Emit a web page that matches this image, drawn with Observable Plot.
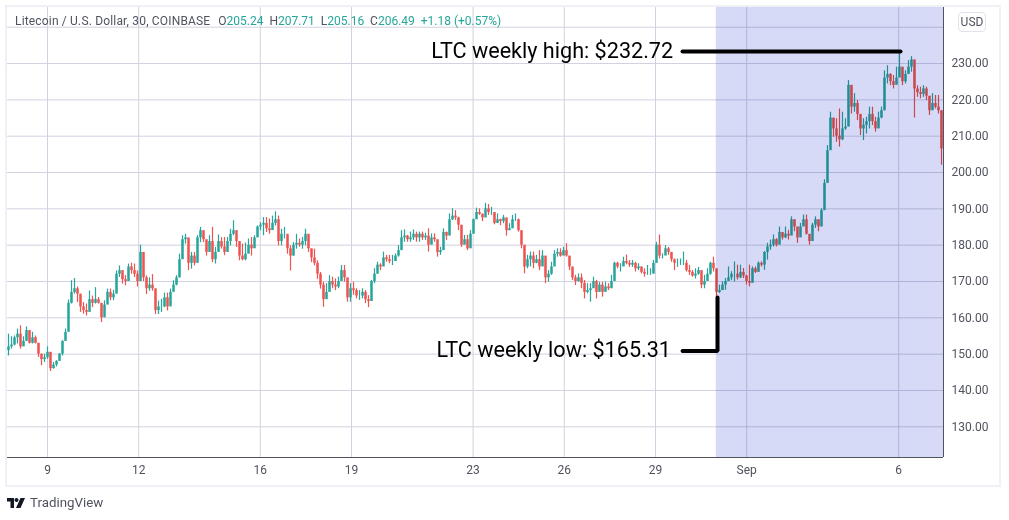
<!DOCTYPE html>
<html>
<head>
<meta charset="utf-8">
<script src="https://cdn.jsdelivr.net/npm/d3@7"></script>
<script src="https://cdn.jsdelivr.net/npm/@observablehq/plot@0.6"></script>
<style>
html,body{margin:0;padding:0;background:#fff;}
#wrap{position:relative;width:1009px;height:520px;overflow:hidden;font-family:Roboto,sans-serif;}
#frame{position:absolute;left:5px;top:5px;width:992px;height:478px;border:2px solid #f0f1f7;box-sizing:content-box;pointer-events:none;}
#legend{position:absolute;left:15px;top:13px;font-size:12px;line-height:16px;color:#50535e;white-space:pre;}
#legend b{font-weight:400;color:#26a69a;}
#legend .sym{letter-spacing:.17px;margin-right:2px;}
#usd{position:absolute;left:958px;top:12px;width:26px;height:18px;line-height:18px;text-align:center;border:1px solid #e0e3eb;border-radius:4px;font-size:12px;color:#50535e;}
#brand{position:absolute;left:7px;top:495px;font-size:13.3px;line-height:16px;color:#50535e;display:flex;align-items:center;gap:5px;}
</style>
</head>
<body>
<div id="wrap">
<div id="chart"></div>
<div id="frame"></div>
<div id="legend"><span class="sym">Litecoin / U.S. Dollar, 30, COINBASE</span>  O<b>205.24</b>  H<b>207.71</b>  L<b>205.16</b>  C<b>206.49</b>  <b>+1.18 (+0.57%)</b></div>
<div id="usd">USD</div>
<div id="brand"><svg width="18" height="10" viewBox="0 0 36 20"><path d="M0 0H14V20H7V7H0Z" fill="#131722"/><circle cx="19" cy="4" r="4" fill="#131722"/><path d="M27 0H36L27 20H18Z" fill="#131722"/></svg><span>TradingView</span></div>
</div>
<script>
const firstDay = 7.717;
const stepDays = 3 / 30.4;
const firstOpen = 151;

const highs = [155.5,154.8,155,156.9,157.8,154.8,157.5,156.2,156,155,152.8,150,150,152,150.5,147.7,148.2,150.2,153.7,156.9,164.9,170.2,170.8,168.5,166.5,164.2,163.8,167.4,166,168.3,165.6,162.8,164.7,167.9,167.9,167.6,172.9,174.3,172,171.6,174.8,175,174.8,172.9,180,178,171.5,171,171.9,167.3,164.6,
165.1,166.8,166.8,167.9,170.2,171.6,177.5,182.6,183,181,178,178,182.6,184.9,183,180.3,182.6,184.9,179.4,182.8,182.1,182.1,182.1,184.4,186.7,182.6,180.7,180.3,180.6,181.7,182.1,182.6,185.3,186.2,187.6,187.6,187.2,188,189.2,188,184.4,184.9,182.1,179.8,180.7,183,181.7,182.1,184.4,181.7,178.9,178.9,175.7,172.5,
169.8,169.4,171.6,171.2,170.7,171.2,174.4,174.4,169.4,169.4,169.8,168,167.5,168,167.5,166.1,170.3,173.5,175.3,174.9,178.1,177.2,177.2,177.2,177.6,179.9,184,184.2,182.7,183.6,184.2,183.6,183.6,183.6,183.3,184.5,183.1,183.1,180.4,179.4,184.5,183.6,188.6,190,189.5,187.7,184,182.7,182.7,184,
187.2,190.2,190,188.6,191.5,191.2,190.4,188.6,188.6,187.2,188.2,185.9,185.9,188.2,188.6,187.2,182.2,177.6,177.2,178.1,178.1,177.2,178.5,178.5,175.8,173,175.3,178.5,179,179,179.4,180.4,176.7,172.6,171.7,172.1,172.1,170.3,169.4,169.4,171.2,
170.3,169.8,169.8,169.8,169.4,171.7,175.3,175.3,174.9,176.7,177.3,175.8,175.8,175.3,174.9,173.9,173.5,174.4,173.5,175.8,180.8,182.8,177.6,179.9,179.4,177.6,176.2,176.2,176.2,178.1,175.8,174.4,173,173.5,173.9,172.1,171.7,173.5,175.3,176.7,171,
169,169.9,170.8,174,172.7,175.4,174.5,174.5,173.6,171.7,174.5,174,174,175.4,175.4,178.2,180.5,181.4,182.8,181.8,185,183.2,185,184.1,187.8,186.9,184.1,186,188.3,188.3,181.8,186,187.8,186.4,190,198,207.4,
216.6,214.8,214.8,217.5,216.6,214.8,225.3,223,221.7,219.8,214.8,214.8,215.2,218,218,215.2,216.6,218,228,229.4,227.2,226.7,229,232.72,227.6,228,230.8,231.9,228,223.9,223.5,223.9,223.5,220.7,221.7,221.2,221.2,217];

const lows = [149.5,151.4,152.3,152.8,151.4,152.9,153.7,152.8,152.8,152.8,149.1,146.8,147.7,148.6,145.2,145.9,146.5,148.9,149.5,153.7,159.9,163.8,166.5,164.2,161.5,161,160.5,162.8,162.8,163.8,163.8,158.7,161.9,164.9,164.7,164.7,167.4,171.1,169.3,168.8,171.6,172,171.1,168.5,172,170,166.4,167.3,167.3,160.9,160.9,
161.5,162.8,161.9,164.7,167.9,168.8,171,179.8,180.3,173,173.4,174.3,180.3,180.7,180.7,177,178.9,175.2,174.8,179.4,178.9,177.1,180,179.8,182.6,179.4,175.7,175.7,175.7,178,177,181.2,183,184,182.6,183.5,183,184.4,185.3,179.8,179.8,181.7,177.5,172.9,177,178.9,179.4,178.9,179.8,178,175.2,174.3,170.6,167.9,
162.9,165.2,168,168,167.5,168,170.3,169.8,164.3,164.3,166.2,165.2,164.8,165.2,163.9,162.8,168.4,169.4,173,173,174.9,175.3,174.9,174.4,175.8,176.7,180.4,180.8,180.8,180.8,181.3,180.8,180.8,181.3,181.3,178.1,180.4,180.8,176.7,177.2,179.9,181.3,183.1,186.8,186.8,184,179.4,180.4,178.5,180.4,
184.5,188.2,188.2,186.5,189,188.2,188.2,185.6,185.9,185.4,185.9,182.5,184,185.9,186.5,183.6,179,172.1,173.5,174,173.5,174.9,173,175.3,169.4,169.8,171.7,176.2,176.7,176.7,177.2,176.7,173,170.3,168.9,169.8,168,165.2,166.6,164.3,169.4,
165.2,167.5,165.7,167.5,167.5,168.4,173,173.5,172.6,174.4,174.6,173.9,173.9,172.6,173,172.1,171.2,171.7,171.7,172.6,176.2,176.2,176.2,177.2,177.2,175.3,173,173.9,174.4,174.4,172.6,171.7,171.2,170.7,171.7,168,168,170.3,171.7,172.6,165.31,
166.7,167.6,167.6,170.8,170.2,169.9,170.4,170.8,170.8,169,168.5,171.7,172.2,173.6,174,173.1,175.9,178.6,179.5,179.5,181.8,181.4,181.8,181.4,184.1,183.7,180.5,183.2,185.5,182.8,180,183.2,184.6,183.7,187,192,200.5,
210.6,209.7,208.3,207,208.8,211.6,214.3,216.1,216.6,214.3,210.2,208.8,210.6,212,212.9,211.1,213.9,214.8,217,224.4,223.9,223,224.9,227.2,223.9,224.4,227.6,227.6,215,220.7,220.3,220.7,219.8,215.7,217.1,217.5,216.1,202];

const closes = [152,152.5,154.5,155.5,152,153.5,156.5,153,154.5,153,150,148.5,149,150.5,146,147,148,150,153.5,156,164,167,168,166.5,163,162,161.5,165,164,165,164,160,163.5,167,165.5,166.5,172,173,170.5,170,174,173,172,170,178,171,168,169,168,162,163,
163,165.5,163,167,169,171,176,181.5,182,175,177,175,182,184,181.5,178,181,176,178,181,179.5,178,181,183,184,181,177,176,177.5,180,179,182,185,185.5,186,184.5,184,186,187,181,183,183,179,177,180,180.5,180,181,183,179,176.5,175,172,169,
165,167,170,169,168.5,170,173,171,165.5,168,167.5,166,166,167,165,164.5,170,172,174.5,174,176.5,176,175.5,175.5,177,178.5,182,182.5,181.5,182,183,182,183,182,182.5,180,182,181.5,178,178.5,183.5,182.5,187,188,187.5,185.5,180,181.5,179,183,
187,189,188.5,187.5,190,189,189,186,187,186.5,187.5,184,184.5,187,187,184,180,174,176,177,175,176,174,177,171,172,174,177.5,178,177,178.5,177,174,171,170,171,169.5,167,167.5,168,170,
167,169,167,168.5,168,170,175,174,174,175.5,175,174.5,175,173.5,174,172.5,172,172,172,175,180,177,177,179,178,176,175,175,175,175,173,172.5,171.5,172,173,169,170,172,175,173.5,167,
167.5,169,170,171,172,172,171,172.5,171.5,170,169.5,173.5,172.5,175,174.5,178,179.5,180,181.5,180,183.5,182,183,182.5,187,185,182,185,187,183,181,185.5,187,185,189.5,197,206,
215,212,210,209,212,212.5,224,218,219,216,212,213,214,216,214,212,215,217,226,227,225,224,226,229,225,227,229,231,223,222,221.5,223,221,217,219,218,217,206.49];

const days = closes.map((_, i) => firstDay + i * stepDays);
const candles = closes.map((c, i) => {
  const o = i === 0 ? firstOpen : closes[i - 1];
  return {day: days[i], open: o, close: c, high: highs[i], low: lows[i], dir: c >= o ? "up" : "down"};
});

const priceTicks = [130,140,150,160,170,180,190,200,210,220,230];
const priceGrid = [...priceTicks, 240];
const dayTicks = [9,12,16,19,23,26,29,32,37];
const dayLabels = ["9","12","16","19","23","26","29","Sep","6"];
const xDomain = [7.684, 38.474];
const yDomain = [121.55, 245.7];
const zone = [{x1: 31.0, x2: 38.474}];
const highLine = [{day: 29.89, price: 233.3},{day: 37.06, price: 233.3}];
const lowLine = [{day: 29.89, price: 150.9},{day: 31.04, price: 150.9},{day: 31.04, price: 165.6}];
const notes = [
  {day: 29.58, price: 233.3, text: "LTC weekly high: $232.72"},
  {day: 29.51, price: 151.0, text: "LTC weekly low: $165.31"}
];

const plot = Plot.plot({
  width: 1009, height: 520,
  marginLeft: 7, marginRight: 66, marginTop: 6, marginBottom: 63,
  style: {fontFamily: "Roboto, sans-serif", background: "#fff"},
  x: {domain: xDomain},
  y: {domain: yDomain},
  color: {domain: ["up","down"], range: ["#26a69a","#ef5350"]},
  marks: [
    Plot.ruleY(priceGrid, {stroke: "#d2d1e0", strokeWidth: 1}),
    Plot.ruleX(dayTicks, {stroke: "#d2d1e0", strokeWidth: 1}),
    Plot.ruleX(candles, {x: "day", y1: "low", y2: "high", stroke: "dir", strokeWidth: 1.2}),
    Plot.ruleX(candles, {x: "day", y1: "open", y2: "close", stroke: "dir", strokeWidth: 2.5}),
    Plot.rectY(zone, {x1: "x1", x2: "x2", y1: yDomain[0], y2: yDomain[1], fill: "#d6daf6", mixBlendMode: "multiply"}),
    Plot.ruleY([yDomain[0]], {stroke: "#50535e", strokeWidth: 1}),
    Plot.ruleX([xDomain[1]], {stroke: "#50535e", strokeWidth: 1}),
    Plot.axisX({ticks: dayTicks, tickFormat: d => dayLabels[dayTicks.indexOf(d)], tickSize: 0, tickPadding: 8, fontSize: 12, fill: "#50535e", label: null}),
    Plot.axisY({anchor: "right", ticks: priceTicks, tickFormat: d => d.toFixed(2), tickSize: 0, tickPadding: 8, fontSize: 12, fill: "#50535e", label: null}),
    Plot.line(highLine, {x: "day", y: "price", stroke: "#000", strokeWidth: 4, strokeLinecap: "round"}),
    Plot.line(lowLine, {x: "day", y: "price", stroke: "#000", strokeWidth: 4, strokeLinecap: "round", strokeLinejoin: "miter"}),
    Plot.text(notes, {x: "day", y: "price", text: "text", textAnchor: "end", fontSize: 21.6, fill: "#000"})
  ]
});
document.getElementById("chart").appendChild(plot);
</script>
</body>
</html>
